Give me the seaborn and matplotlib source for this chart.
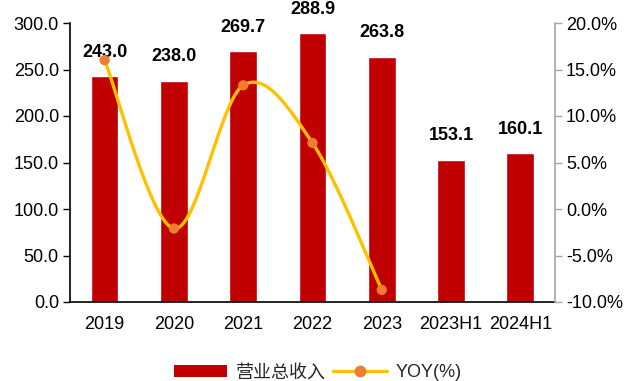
import numpy as np
import pandas as pd
import matplotlib
matplotlib.use("Agg")
import matplotlib.pyplot as plt
from matplotlib.patches import Patch
from matplotlib.lines import Line2D
from matplotlib.ticker import FuncFormatter, MultipleLocator, FixedLocator
import seaborn as sns

# Revenue (亿元) and year-on-year growth (%)
periods = ["2019", "2020", "2021", "2022", "2023", "2023H1", "2024H1"]
revenue = [243.0, 238.0, 269.7, 288.9, 263.8, 153.1, 160.1]
yoy_periods = ["2019", "2020", "2021", "2022", "2023"]
yoy = [16.0, -2.1, 13.3, 7.1, -8.7]

bar_color = "#C00000"
line_color = "#FFC000"
marker_color = "#ED7D31"

sns.set_theme(style="white")
plt.rcParams["font.family"] = ["Liberation Sans", "Noto Sans CJK SC", "DejaVu Sans"]

df = pd.DataFrame({"period": periods, "revenue": revenue})
df_yoy = pd.DataFrame({"period": yoy_periods, "yoy": yoy,
                       "pos": [periods.index(p) for p in yoy_periods]})

fig = plt.figure(figsize=(6.27, 3.81), dpi=100)
ax = fig.add_axes([70 / 627, 1 - 302 / 381, (555 - 70) / 627, (302 - 23) / 381])

sns.barplot(data=df, x="period", y="revenue", color=bar_color, width=0.4,
            saturation=1, ax=ax)
ax.set_ylim(0, 300)
ax.set_xlim(-0.5, len(periods) - 0.5)
ax.yaxis.set_major_locator(MultipleLocator(50))
ax.yaxis.set_major_formatter(FuncFormatter(lambda v, _: f"{v:.1f}"))
ax.set_xlabel("")
ax.set_ylabel("")

# category labels on minor ticks, boundary tick marks on major ticks
ax.xaxis.set_major_locator(FixedLocator(np.arange(-0.5, len(periods), 1.0)))
ax.xaxis.set_major_formatter(FuncFormatter(lambda v, _: ""))
ax.xaxis.set_minor_locator(FixedLocator(np.arange(len(periods))))
ax.xaxis.set_minor_formatter(FuncFormatter(lambda v, _: periods[int(round(v))]))
ax.tick_params(axis="x", which="major", direction="in", length=6, width=1, colors="black")
ax.tick_params(axis="x", which="minor", length=0, pad=10, labelsize=13, labelcolor="black")
ax.tick_params(axis="y", direction="out", length=5, width=1, colors="black",
               labelsize=13, pad=3, left=True)

for side in ["top", "right"]:
    ax.spines[side].set_visible(False)
for side in ["left", "bottom"]:
    ax.spines[side].set_color("black")
    ax.spines[side].set_linewidth(1.2)

for i, v in enumerate(revenue):
    ax.annotate(f"{v:.1f}", xy=(i, v), xytext=(0, 11), textcoords="offset points",
                ha="center", va="bottom", fontsize=13, fontweight="bold", color="black")

# secondary axis: smoothed growth curve
ax2 = ax.twinx()
ax2.set_ylim(-10, 20)
ax2.yaxis.set_major_locator(MultipleLocator(5))
ax2.yaxis.set_major_formatter(FuncFormatter(lambda v, _: f"{v:.1f}%"))

px = df_yoy["pos"].to_numpy(dtype=float)
py = df_yoy["yoy"].to_numpy(dtype=float)
pts = np.column_stack([px, py])
curve = []
n = len(pts)
for i in range(n - 1):
    p0 = pts[i - 1] if i > 0 else pts[i]
    p1, p2 = pts[i], pts[i + 1]
    p3 = pts[i + 2] if i + 2 < n else pts[i + 1]
    c1 = p1 + (p2 - p0) / 6
    c2 = p2 - (p3 - p1) / 6
    t = np.linspace(0, 1, 40)[:, None]
    seg = ((1 - t) ** 3) * p1 + 3 * ((1 - t) ** 2) * t * c1 + 3 * (1 - t) * t ** 2 * c2 + t ** 3 * p2
    curve.append(seg if i == 0 else seg[1:])
curve = np.vstack(curve)
ax2.plot(curve[:, 0], curve[:, 1], color=line_color, linewidth=2.4, solid_capstyle="round", zorder=3)
sns.scatterplot(x=px, y=py, color=marker_color, s=55, edgecolor="none", ax=ax2, zorder=4)

ax2.set_ylabel("")
ax2.tick_params(axis="y", direction="out", length=5, width=1, colors="#A6A6A6",
                labelcolor="black", labelsize=13, pad=3, right=True)
for side in ["top", "left", "bottom"]:
    ax2.spines[side].set_visible(False)
ax2.spines["right"].set_color("#A6A6A6")
ax2.spines["right"].set_linewidth(1.2)
ax2.grid(False)
ax.grid(False)

handles = [
    Patch(facecolor=bar_color, edgecolor="none"),
    Line2D([0], [0], color=line_color, linewidth=2.4, marker="o",
           markerfacecolor=marker_color, markeredgecolor=marker_color, markersize=7.5),
]
fig.legend(handles, ["营业总收入", "YOY(%)"], loc="center", bbox_to_anchor=(0.507, 0.021),
           ncol=2, frameon=False, fontsize=13, handlelength=2.95, handleheight=0.6,
           handletextpad=0.5, columnspacing=0.4)

fig.savefig("out.png", dpi=100)
